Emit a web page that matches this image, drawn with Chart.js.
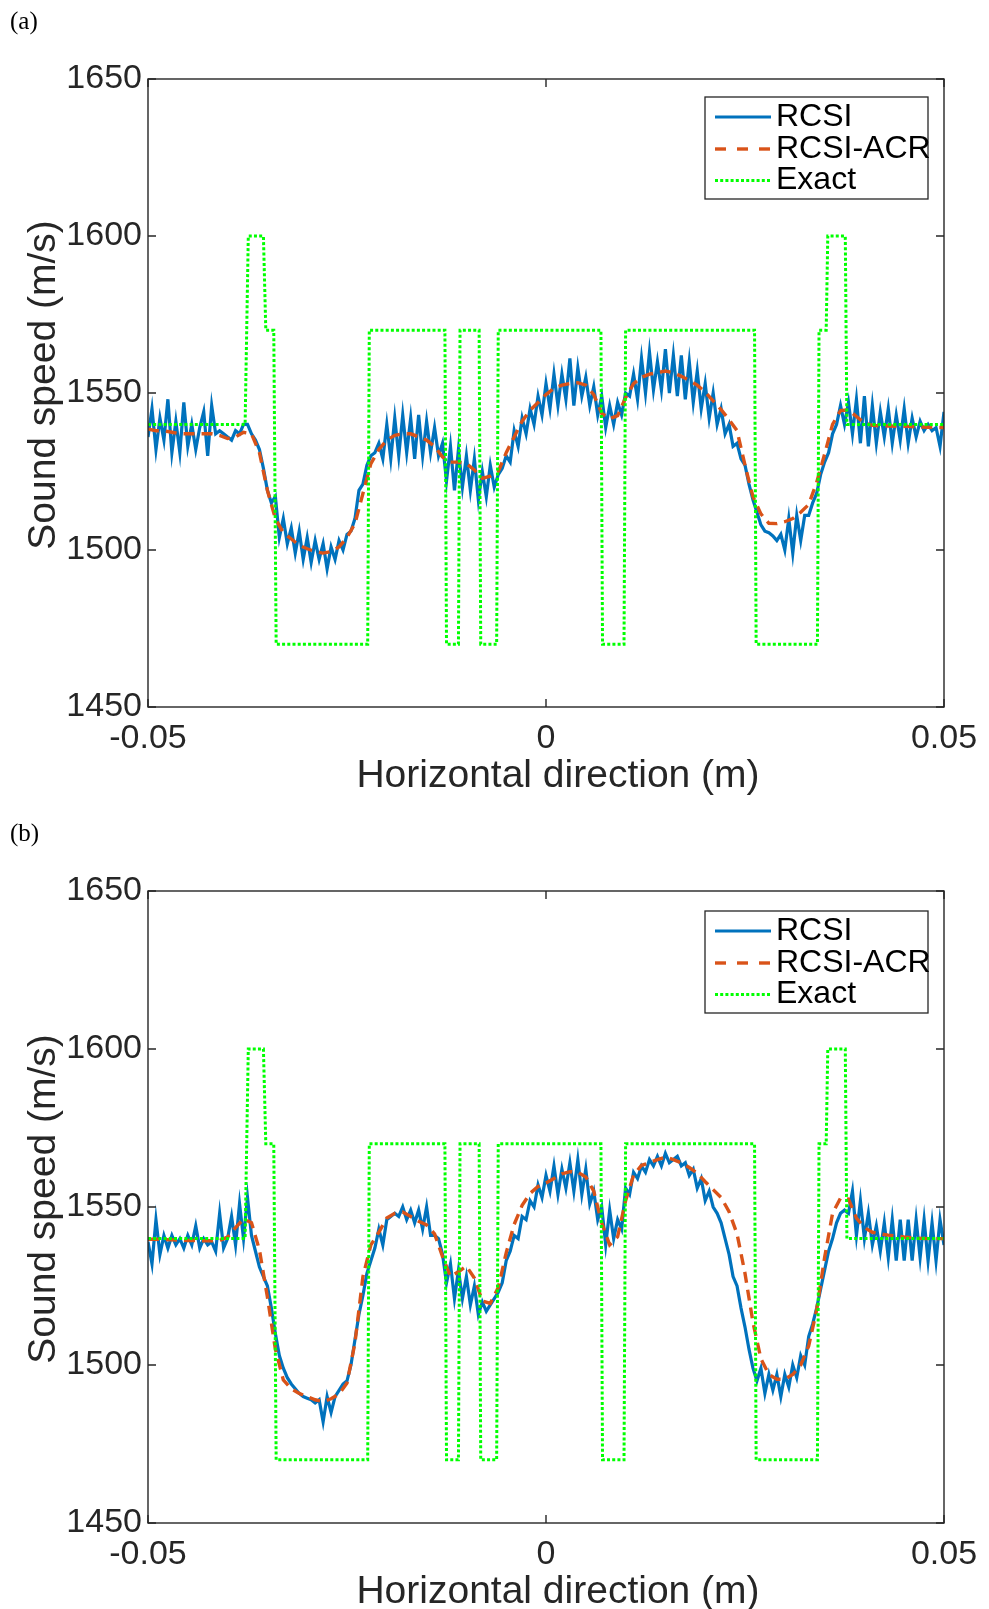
<!DOCTYPE html>
<html>
<head>
<meta charset="utf-8">
<script src="https://cdn.jsdelivr.net/npm/chart.js@4.4.1/dist/chart.umd.min.js"></script>
<style>
  body { margin: 0; background: #fff; width: 989px; height: 1609px; overflow: hidden; position: relative; }
  canvas { position: absolute; left: 0; }
  #chartA { top: 0; }
  #chartB { top: 812px; }
</style>
</head>
<body>
<canvas id="chartA" width="989" height="800"></canvas>
<canvas id="chartB" width="989" height="797"></canvas>
<script>
// sample grids (m)
const X_MIN = -0.05, X_MAX = 0.05;
const FINE_STEP = 0.0005;   // RCSI samples
const COARSE_STEP = 0.001;  // RCSI-ACR samples

const yTicks = [1450, 1500, 1550, 1600, 1650];
const xTicks = [-0.05, 0, 0.05];
const seriesNames = ["RCSI", "RCSI-ACR", "Exact"];

// exact profile (breakpoints)
const exactX = [-0.05, -0.0378, -0.0374, -0.0355, -0.0352, -0.0342, -0.0339, -0.0224, -0.0222, -0.0127,
  -0.0125, -0.0110, -0.0108, -0.0084, -0.0082, -0.0062, -0.0060, 0.0069, 0.0071, 0.0098,
  0.0100, 0.0262, 0.0264, 0.0341, 0.0343, 0.0352, 0.0354, 0.0376, 0.0378, 0.05];
const exactY = [1540, 1540, 1600, 1600, 1570, 1570, 1470, 1470, 1570, 1570,
  1470, 1470, 1570, 1570, 1470, 1470, 1570, 1570, 1470, 1470,
  1570, 1570, 1470, 1470, 1570, 1570, 1600, 1600, 1540, 1540];

// panel (a)
const rcsiA = [
  1536, 1545, 1532, 1542, 1535, 1548, 1531, 1541, 1531, 1547,
  1533, 1540, 1532, 1539, 1544, 1530, 1546, 1537, 1538, 1537,
  1536, 1535, 1538, 1537, 1540, 1540, 1537, 1535, 1532, 1526,
  1519, 1515, 1517, 1504, 1510, 1502, 1507, 1499, 1506, 1497,
  1504, 1496, 1503, 1497, 1502, 1494, 1501, 1497, 1503, 1500,
  1505, 1506, 1510, 1519, 1521, 1527, 1530, 1531, 1534, 1529,
  1540, 1529, 1542, 1530, 1543, 1531, 1542, 1529, 1543, 1530,
  1541, 1531, 1539, 1530, 1534, 1522, 1533, 1519, 1532, 1520,
  1530, 1519, 1529, 1516, 1525, 1517, 1527, 1520, 1524, 1526,
  1530, 1528, 1538, 1533, 1542, 1537, 1545, 1540, 1549, 1543,
  1553, 1545, 1556, 1546, 1556, 1548, 1561, 1546, 1558, 1549,
  1555, 1546, 1552, 1543, 1549, 1539, 1546, 1540, 1547, 1543,
  1550, 1549, 1556, 1548, 1561, 1550, 1563, 1551, 1560, 1551,
  1564, 1550, 1562, 1549, 1562, 1548, 1560, 1547, 1557, 1545,
  1553, 1542, 1550, 1540, 1545, 1537, 1540, 1533, 1534, 1529,
  1527, 1521, 1516, 1512, 1508, 1506, 1505.5, 1504.5, 1503, 1505,
  1500, 1510, 1499, 1511, 1503, 1511, 1511, 1515, 1518, 1524,
  1528, 1531, 1537, 1540, 1546, 1540, 1547, 1537, 1548, 1534,
  1549, 1533, 1546, 1534, 1544, 1536, 1545, 1534, 1543, 1535,
  1545, 1534, 1542, 1536, 1541, 1538, 1540, 1538, 1539, 1533,
  1544
];
const acrA = [
  1538.5, 1538, 1538, 1537.5, 1537, 1537, 1537, 1537, 1537, 1536.5,
  1535.5, 1536, 1537.5, 1537, 1531, 1519, 1510, 1505.5, 1503.5, 1501.5,
  1500.4, 1499.5, 1499, 1499.5, 1501, 1504, 1508.4, 1518, 1527.5, 1532,
  1535, 1536.5, 1537, 1537, 1536, 1535, 1533, 1529.6, 1528, 1528,
  1527.5, 1525.5, 1522.8, 1523.5, 1525, 1531, 1536, 1541, 1544.5, 1547,
  1549.5, 1551.5, 1552.5, 1553, 1553.3, 1552.5, 1549.5, 1543.5, 1541.8, 1542.8,
  1548.5, 1553, 1555, 1556, 1556.5, 1557, 1556.5, 1555.3, 1554, 1552.5,
  1550.3, 1547.5, 1544.7, 1541.5, 1538, 1527, 1517, 1511.5, 1508.5, 1508.4,
  1509, 1510, 1512, 1514.5, 1521.5, 1530.5, 1540, 1544.4, 1544.6, 1542.5,
  1540.5, 1539.7, 1539.5, 1539.5, 1539.4, 1539.4, 1539.3, 1539.2, 1539.1, 1539,
  1539
];

// panel (b)
const rcsiB = [
  1539, 1532, 1546, 1535, 1541, 1537, 1541, 1538, 1540, 1537,
  1541, 1538, 1544, 1537, 1540, 1538, 1539, 1536, 1548, 1537,
  1540, 1547, 1538, 1551, 1540, 1553, 1541, 1536, 1531, 1528,
  1525, 1518, 1510, 1503, 1499, 1496, 1494, 1492.5, 1491, 1490,
  1489.5, 1489, 1488, 1489, 1482, 1490, 1485, 1490, 1492, 1494,
  1495, 1500, 1508, 1516, 1522, 1529, 1533, 1537, 1543, 1538,
  1546, 1547, 1548, 1547, 1550, 1546, 1549, 1545, 1549, 1543,
  1550, 1541, 1541, 1540, 1535, 1526, 1532, 1521, 1530, 1521,
  1528, 1519, 1525, 1516, 1520, 1517, 1519, 1521, 1523, 1526,
  1533, 1536, 1541, 1540, 1547, 1546, 1552, 1550, 1557, 1553,
  1560, 1555, 1563, 1554, 1562, 1556, 1564, 1555, 1565, 1554,
  1562, 1551, 1555, 1546, 1550, 1538, 1549, 1540, 1546, 1543,
  1556, 1554, 1561, 1559, 1563, 1561, 1565, 1563, 1566, 1563,
  1567, 1564, 1565, 1566, 1563, 1564, 1560, 1562, 1556, 1559,
  1552, 1555, 1550, 1548, 1545, 1540, 1535, 1528, 1525, 1518,
  1512, 1505, 1499, 1495, 1499, 1491, 1497, 1492, 1497, 1490,
  1497, 1493, 1500, 1496, 1503, 1500, 1509, 1513, 1518, 1524,
  1530, 1536, 1540, 1545, 1548, 1549, 1548, 1555, 1541, 1552,
  1540, 1548, 1538, 1544, 1536, 1545, 1534, 1546, 1533, 1546,
  1533, 1546, 1533, 1546, 1534, 1546, 1533, 1545, 1533, 1546,
  1538
];
const acrB = [
  1539.8, 1539.8, 1539.7, 1539.6, 1539.5, 1539.4, 1539.4, 1539.3, 1539.3, 1539.4,
  1540.5, 1543.5, 1546.2, 1545, 1536.4, 1521.5, 1505, 1495.3, 1492.5, 1491,
  1490, 1489, 1488.4, 1489.3, 1490.8, 1494.3, 1507, 1528, 1538, 1542,
  1546.5, 1548, 1548.4, 1547, 1545.5, 1544.3, 1541.5, 1534.3, 1528, 1529.5,
  1531.3, 1527.5, 1520.3, 1519.5, 1524.5, 1535.5, 1544.5, 1550.5, 1554.3, 1556.5,
  1557.6, 1559, 1560.5, 1561.2, 1561, 1559.5, 1555, 1545, 1538, 1540.6,
  1552, 1560, 1563.2, 1564, 1565, 1565.8, 1565, 1564, 1562.5, 1560.7,
  1558, 1555.5, 1553, 1548.5, 1541.5, 1529, 1513.5, 1502, 1497, 1495.5,
  1495.5, 1497, 1500, 1506, 1517.4, 1534, 1548, 1552.8, 1552.5, 1546.5,
  1543.5, 1542, 1541.5, 1541.1, 1540.8, 1540.5, 1540.3, 1540.1, 1540, 1540,
  1540
];

const AXIS_COLOR = "#262626";
const SANS = "'Liberation Sans', Arial, sans-serif";
const COLORS = ["#0072BD", "#D95319", "#00FF00"];

function toPoints(values, step) {
  return values.map((v, i) => ({ x: X_MIN + i * step, y: v }));
}

const framePlugin = {
  id: "frame",
  afterDatasetsDraw(chart, args, opts) {
    const { ctx, chartArea: a, scales } = chart;
    ctx.save();

    // box and inward ticks
    ctx.strokeStyle = AXIS_COLOR;
    ctx.lineWidth = 1.4;
    ctx.strokeRect(a.left, a.top, a.right - a.left, a.bottom - a.top);
    ctx.beginPath();
    yTicks.forEach((v) => {
      const y = scales.y.getPixelForValue(v);
      ctx.moveTo(a.left, y);
      ctx.lineTo(a.left + 8, y);
      ctx.moveTo(a.right, y);
      ctx.lineTo(a.right - 8, y);
    });
    xTicks.forEach((v) => {
      const x = scales.x.getPixelForValue(v);
      ctx.moveTo(x, a.bottom);
      ctx.lineTo(x, a.bottom - 8);
      ctx.moveTo(x, a.top);
      ctx.lineTo(x, a.top + 8);
    });
    ctx.stroke();

    // legend
    const lx = a.left + 557, ly = a.top + opts.legendTop;
    ctx.fillStyle = "#fff";
    ctx.fillRect(lx, ly, 223, 102);
    ctx.lineWidth = 1.3;
    ctx.strokeStyle = AXIS_COLOR;
    ctx.strokeRect(lx, ly, 223, 102);
    const rowY = [20, 52, 83.5];
    const sampleDash = [[], [11, 11], [3, 2.2]];
    chart.data.datasets.forEach((ds, i) => {
      const y = ly + rowY[i];
      ctx.beginPath();
      ctx.setLineDash(sampleDash[i]);
      ctx.strokeStyle = ds.borderColor;
      ctx.lineWidth = ds.borderWidth;
      ctx.moveTo(lx + 10, y);
      ctx.lineTo(lx + 66, y);
      ctx.stroke();
      ctx.setLineDash([]);
      ctx.fillStyle = "#000";
      ctx.font = "32px " + SANS;
      ctx.textAlign = "left";
      ctx.textBaseline = "middle";
      ctx.fillText(ds.label, lx + 71, y);
    });

    // axis titles
    ctx.fillStyle = AXIS_COLOR;
    ctx.font = "39px " + SANS;
    ctx.textAlign = "center";
    ctx.textBaseline = "middle";
    ctx.fillText("Horizontal direction (m)", 558, a.bottom + 69);
    ctx.save();
    ctx.translate(44, (a.top + a.bottom) / 2 - 8);
    ctx.rotate(-Math.PI / 2);
    ctx.fillText("Sound speed (m/s)", 0, 0);
    ctx.restore();

    // panel tag
    ctx.fillStyle = "#000";
    ctx.font = "25px 'Liberation Serif', 'DejaVu Serif', serif";
    ctx.textAlign = "left";
    ctx.fillText(opts.panel, 10, 22);
    ctx.restore();
  },
};

function createChart(id, panel, rcsi, acr, xAxisHeight, legendTop) {
  const ctx = document.getElementById(id).getContext("2d");
  return new Chart(ctx, {
    type: "line",
    data: {
      datasets: [
        {
          label: seriesNames[0],
          data: toPoints(rcsi, FINE_STEP),
          borderColor: COLORS[0],
          borderWidth: 3.2,
          order: 3,
        },
        {
          label: seriesNames[1],
          data: toPoints(acr, COARSE_STEP),
          borderColor: COLORS[1],
          borderWidth: 3.4,
          borderDash: [11, 7],
          order: 2,
        },
        {
          label: seriesNames[2],
          data: exactX.map((x, i) => ({ x: x, y: exactY[i] })),
          borderColor: COLORS[2],
          borderWidth: 3,
          borderDash: [3, 2.2],
          order: 1,
        },
      ],
    },
    options: {
      responsive: false,
      animation: false,
      devicePixelRatio: 1,
      elements: {
        point: { radius: 0 },
        line: { tension: 0, fill: false, borderCapStyle: "butt" },
      },
      layout: { padding: { left: 0, right: 45, top: 79, bottom: 0 } },
      plugins: {
        legend: { display: false },
        tooltip: { enabled: false },
        frame: { panel: panel, legendTop: legendTop },
      },
      scales: {
        x: {
          type: "linear",
          min: X_MIN,
          max: X_MAX,
          grid: { display: false, drawTicks: false },
          border: { display: false },
          ticks: {
            stepSize: 0.05,
            autoSkip: false,
            maxRotation: 0,
            padding: 11,
            color: AXIS_COLOR,
            font: { family: SANS, size: 34 },
            callback: (v) => (Math.abs(v) < 1e-9 ? "0" : v.toFixed(2)),
          },
          afterFit(s) {
            s.height = xAxisHeight;
            s.paddingLeft = 0;
            s.paddingRight = 0;
          },
        },
        y: {
          type: "linear",
          min: 1450,
          max: 1650,
          grid: { display: false, drawTicks: false },
          border: { display: false },
          ticks: {
            stepSize: 50,
            padding: 6,
            color: AXIS_COLOR,
            font: { family: SANS, size: 34 },
            callback: (v) => String(v),
          },
          afterFit(s) {
            s.width = 148;
            s.paddingTop = 0;
            s.paddingBottom = 0;
          },
        },
      },
    },
    plugins: [framePlugin],
  });
}

createChart("chartA", "(a)", rcsiA, acrA, 93, 18);
createChart("chartB", "(b)", rcsiB, acrB, 86, 20);
</script>
</body>
</html>
